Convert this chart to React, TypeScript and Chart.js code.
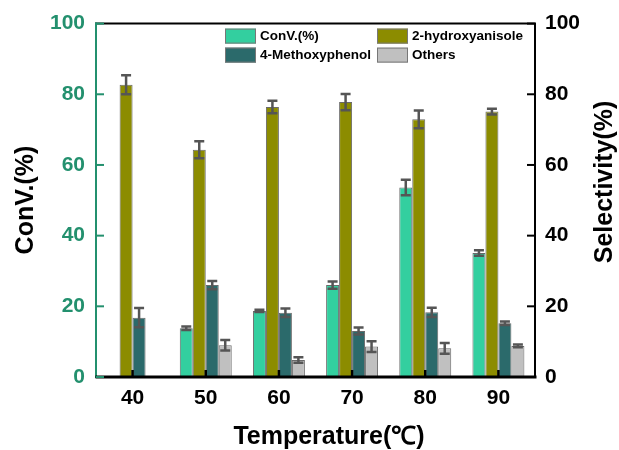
import React, { useEffect, useRef } from "react";
import { Chart, registerables } from "chart.js";

Chart.register(...registerables);

// ---- data ----
const temperatures = ["40", "50", "60", "70", "80", "90"];
const convValues = [0.3, 13.8, 18.7, 26.0, 53.6, 35.1];
const convErrors = [0, 0.5, 0.3, 1.0, 2.2, 0.8];
const hydroxyanisoleValues = [82.7, 64.3, 76.4, 77.8, 72.9, 75.1];
const hydroxyanisoleErrors = [2.7, 2.4, 1.8, 2.3, 2.5, 0.8];
const methoxyphenolValues = [16.8, 26.0, 18.2, 13.0, 18.3, 15.2];
const methoxyphenolErrors = [2.7, 1.2, 1.2, 1.0, 1.3, 0.5];
const othersValues = [0.3, 9.0, 4.8, 8.6, 8.1, 8.8];
const othersErrors = [0, 1.5, 0.8, 1.5, 1.5, 0.4];
const seriesLabels = ["ConV.(%)", "2-hydroxyanisole", "4-Methoxyphenol", "Others"];
const axisMin = 0;
const axisMax = 100;
const axisStep = 20;

const FONT = '"Liberation Sans", Arial, Helvetica, sans-serif';
const TEAL = "#23906e";
const COLORS = ["#33cf9f", "#8c8c00", "#2b6a6b", "#c0c0c0"];
const errorSets = [convErrors, hydroxyanisoleErrors, methoxyphenolErrors, othersErrors];

export default function App() {
  const canvasRef = useRef<HTMLCanvasElement | null>(null);

  useEffect(() => {
    const canvas = canvasRef.current;
    if (!canvas) return;

    const errorBarPlugin = {
      id: "errorBars",
      afterDatasetsDraw(chart: any) {
        const ctx = chart.ctx;
        chart.data.datasets.forEach((ds: any, di: number) => {
          const meta = chart.getDatasetMeta(di);
          const scale = chart.scales[meta.yAxisID];
          const errs = errorSets[di];
          meta.data.forEach((bar: any, i: number) => {
            const v = ds.data[i];
            const e = errs[i];
            if (!e) return;
            const yTop = scale.getPixelForValue(v + e);
            const yBot = scale.getPixelForValue(v - e);
            const x = bar.x;
            const cw = 5;
            ctx.save();
            ctx.strokeStyle = "#555555";
            ctx.lineWidth = 2.5;
            ctx.lineCap = "butt";
            ctx.beginPath();
            ctx.moveTo(x, yTop);
            ctx.lineTo(x, yBot);
            ctx.moveTo(x - cw, yTop);
            ctx.lineTo(x + cw, yTop);
            ctx.moveTo(x - cw, yBot);
            ctx.lineTo(x + cw, yBot);
            ctx.stroke();
            ctx.restore();
          });
        });
      },
    };

    const framePlugin = {
      id: "frameAndText",
      afterDraw(chart: any) {
        const ctx = chart.ctx;
        const { left, right, top, bottom } = chart.chartArea;
        const yScale = chart.scales.y;
        const y1Scale = chart.scales.y1;
        const xScale = chart.scales.x;
        ctx.save();
        // frame
        ctx.lineCap = "square";
        ctx.strokeStyle = "#000";
        ctx.lineWidth = 2;
        ctx.beginPath();
        ctx.moveTo(left, top);
        ctx.lineTo(right, top);
        ctx.lineTo(right, bottom);
        ctx.stroke();
        ctx.strokeStyle = TEAL;
        ctx.beginPath();
        ctx.moveTo(left, top);
        ctx.lineTo(left, bottom);
        ctx.stroke();
        ctx.strokeStyle = "#000";
        ctx.lineWidth = 3;
        ctx.beginPath();
        ctx.moveTo(left + 1, bottom);
        ctx.lineTo(right, bottom);
        ctx.stroke();
        // ticks
        ctx.lineCap = "butt";
        ctx.lineWidth = 2;
        yScale.ticks.forEach((t: any) => {
          const yy = yScale.getPixelForValue(t.value);
          ctx.strokeStyle = TEAL;
          ctx.beginPath();
          ctx.moveTo(left, yy);
          ctx.lineTo(left + 8, yy);
          ctx.stroke();
        });
        y1Scale.ticks.forEach((t: any) => {
          const yy = y1Scale.getPixelForValue(t.value);
          ctx.strokeStyle = "#000";
          ctx.beginPath();
          ctx.moveTo(right, yy);
          ctx.lineTo(right - 8, yy);
          ctx.stroke();
        });
        ctx.lineWidth = 2.5;
        temperatures.forEach((_, i) => {
          const xx = xScale.getPixelForValue(i);
          ctx.strokeStyle = "#000";
          ctx.beginPath();
          ctx.moveTo(xx, bottom);
          ctx.lineTo(xx, bottom - 7);
          ctx.stroke();
        });

        // axis titles
        ctx.fillStyle = "#000";
        ctx.textAlign = "center";
        ctx.textBaseline = "middle";
        ctx.font = `bold 25px ${FONT}`;
        ctx.save();
        ctx.translate(26, 200);
        ctx.rotate(-Math.PI / 2);
        ctx.fillText("ConV.(%)", 0, 0);
        ctx.restore();
        ctx.save();
        ctx.translate(605, 182);
        ctx.rotate(-Math.PI / 2);
        ctx.fillText("Selectivity(%)", 0, 0);
        ctx.restore();
        ctx.fillText("Temperature(\u2103)", 329, 437);

        // legend
        ctx.font = `bold 13.5px ${FONT}`;
        ctx.textAlign = "left";
        chart.data.datasets.forEach((ds: any, i: number) => {
          const col = i % 2;
          const row = Math.floor(i / 2);
          const sx = left + 129 + col * 152;
          const sy = top + 5 + row * 19;
          ctx.fillStyle = ds.backgroundColor;
          ctx.fillRect(sx, sy, 31, 15);
          ctx.strokeStyle = "#777";
          ctx.lineWidth = 1;
          ctx.strokeRect(sx + 0.5, sy + 0.5, 30, 14);
          ctx.fillStyle = "#000";
          ctx.fillText(ds.label, sx + 35, sy + 8);
        });
        ctx.restore();
      },
    };

    const tickFont = { family: FONT, size: 21, weight: "bold" as const };

    const chart = new Chart(canvas, {
      type: "bar",
      data: {
        labels: temperatures,
        datasets: [
          { label: seriesLabels[0], data: convValues, backgroundColor: COLORS[0], borderColor: "#6a6a6a", borderWidth: 1, yAxisID: "y" },
          { label: seriesLabels[1], data: hydroxyanisoleValues, backgroundColor: COLORS[1], borderColor: "#6a6a6a", borderWidth: 1, yAxisID: "y1" },
          { label: seriesLabels[2], data: methoxyphenolValues, backgroundColor: COLORS[2], borderColor: "#6a6a6a", borderWidth: 1, yAxisID: "y1" },
          { label: seriesLabels[3], data: othersValues, backgroundColor: COLORS[3], borderColor: "#6a6a6a", borderWidth: 1, yAxisID: "y1" },
        ],
      },
      options: {
        responsive: false,
        animation: false,
        devicePixelRatio: 1,
        layout: { padding: { top: 23, left: 0, right: 0, bottom: 0 } },
        datasets: { bar: { categoryPercentage: 0.71, barPercentage: 1.0 } },
        plugins: { legend: { display: false }, tooltip: { enabled: false } },
        scales: {
          x: {
            type: "category",
            offset: true,
            grid: { display: true, drawOnChartArea: false, drawTicks: false },
            border: { display: false },
            ticks: { color: "#000", font: tickFont, padding: 9, maxRotation: 0 },
            afterFit: (s: any) => { s.height = 73; },
          },
          y: {
            position: "left",
            min: axisMin,
            max: axisMax,
            grid: { display: true, drawOnChartArea: false, drawTicks: false },
            border: { display: false },
            ticks: { stepSize: axisStep, color: TEAL, font: tickFont, padding: 11 },
            afterFit: (s: any) => { s.width = 96; },
          },
          y1: {
            position: "right",
            min: axisMin,
            max: axisMax,
            grid: { display: true, drawOnChartArea: false, drawTicks: false },
            border: { display: false },
            ticks: { stepSize: axisStep, color: "#000", font: tickFont, padding: 10 },
            afterFit: (s: any) => { s.width = 84; },
          },
        },
      },
      plugins: [errorBarPlugin, framePlugin],
    });

    return () => chart.destroy();
  }, []);

  return (
    <div style={{ position: "fixed", left: 0, top: 0, width: 619, height: 450, background: "#fff" }}>
      <canvas ref={canvasRef} width={619} height={450} style={{ width: 619, height: 450, display: "block" }} />
    </div>
  );
}
